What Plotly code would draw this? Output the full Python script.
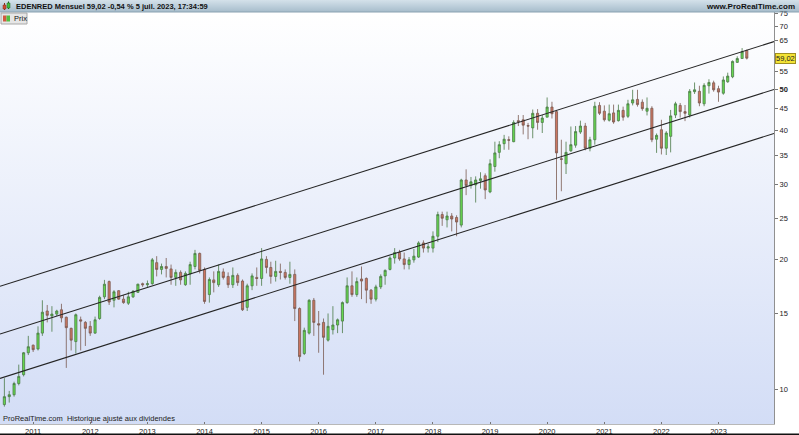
import base64
import math
import pandas as pd
import plotly.graph_objects as go

# ---------------- data ----------------
months = pd.date_range("2010-07-01", periods=157, freq="MS")

opens = [9.2, 9.6, 9.7, 10.3, 10.8, 12.15,
         12.65, 12.4, 13.5, 15.2, 14.8, 14.95, 15.3, 14.7, 13.85, 12.9, 14.5, 14.3,
         14.0, 13.5, 14.6, 16.4, 17.8, 16.1, 16.95, 16.2, 15.85, 16.4, 16.8, 17.6,
         17.5, 17.6, 19.7, 19.0, 19.3, 19.05, 18.2, 18.7, 17.5, 18.55, 19.3, 20.7,
         19.0, 16.6, 17.96, 17.5, 18.75, 18.3, 17.5, 18.4, 17.85, 15.5, 17.4, 18.2,
         18.1, 20.05, 19.2, 18.3, 18.8, 18.7, 18.2, 18.5, 15.4, 12.1, 13.5, 16.1,
         14.2, 14.3, 13.0, 13.75, 14.1, 14.4, 15.9, 17.4, 16.6, 18.05, 18.1, 17.0,
         16.2, 17.3, 18.35, 19.0, 20.2, 20.8, 20.1, 19.5, 20.0, 20.3, 21.9, 21.3,
         21.3, 22.7, 25.5, 24.8, 25.3, 25.1, 24.1, 30.7, 29.8, 29.9, 30.6, 31.4,
         28.8, 33.0, 35.6, 37.3, 38.1, 37.7, 42.2, 42.4, 41.1, 40.6, 43.9, 41.8,
         43.0, 45.4, 44.3, 34.4, 33.5, 35.9, 37.0, 39.7, 41.0, 36.4, 38.1, 45.8,
         44.4, 42.3, 44.0, 42.2, 44.6, 43.2, 46.4, 47.3, 46.6, 44.4, 45.1, 38.2,
         40.2, 36.4, 38.8, 43.5, 45.8, 44.3, 43.5, 49.3, 49.4, 46.2, 50.9, 51.7,
         50.1, 48.9, 52.0, 53.4, 57.7, 58.9, 61.5]
highs = [10.6, 9.9, 10.4, 11.4, 12.2, 13.3,
         12.7, 14.0, 16.1, 15.7, 15.6, 15.3, 15.8, 14.75, 13.9, 15.0, 14.75, 14.4,
         14.4, 14.75, 16.5, 17.96, 17.9, 17.0, 17.0, 16.55, 16.85, 17.0, 17.6, 17.7,
         17.9, 20.2, 20.4, 19.6, 20.2, 19.5, 19.0, 18.9, 18.8, 19.8, 21.1, 20.8,
         19.2, 18.2, 18.8, 19.5, 19.1, 18.7, 19.2, 18.6, 18.0, 17.6, 18.6, 19.2,
         21.3, 20.4, 19.8, 19.9, 19.6, 19.0, 19.8, 19.0, 15.5, 13.9, 16.2, 16.3,
         15.2, 14.6, 15.0, 15.6, 14.6, 16.0, 18.2, 18.8, 18.2, 19.3, 18.2, 17.1,
         17.5, 18.5, 19.0, 20.4, 21.3, 21.1, 20.8, 20.3, 21.2, 22.1, 22.2, 21.8,
         23.3, 25.9, 25.9, 25.9, 25.7, 25.4, 30.9, 32.5, 31.2, 31.3, 32.0, 31.8,
         34.3, 37.7, 37.8, 39.1, 38.8, 42.3, 43.5, 43.5, 41.7, 44.8, 44.9, 43.5,
         47.8, 46.7, 44.7, 38.1, 37.7, 40.9, 41.0, 42.2, 41.7, 38.7, 46.7, 46.6,
         45.8, 46.0, 46.0, 46.0, 45.5, 47.2, 49.8, 49.8, 47.3, 47.8, 45.6, 39.4,
         42.4, 39.9, 44.7, 46.7, 46.4, 45.9, 50.0, 51.8, 50.9, 51.6, 52.7, 52.3,
         50.9, 53.5, 54.6, 58.3, 59.6, 62.3, 61.8]
lows = [9.1, 9.3, 9.6, 10.2, 10.7, 12.0,
        12.2, 12.3, 13.3, 14.3, 13.6, 14.8, 14.3, 11.2, 12.3, 12.1, 12.3, 12.6,
        13.3, 13.45, 14.5, 16.2, 15.7, 15.5, 16.15, 15.8, 15.7, 16.3, 16.75, 17.3,
        17.2, 17.5, 18.3, 18.5, 18.2, 17.5, 17.4, 17.5, 17.4, 17.5, 19.0, 18.6,
        15.8, 15.9, 16.8, 17.3, 18.0, 17.2, 17.2, 17.4, 15.2, 15.2, 17.0, 17.4,
        17.4, 18.6, 17.6, 17.8, 18.0, 18.0, 17.6, 14.4, 11.6, 12.0, 13.4, 13.3,
        12.15, 10.8, 12.9, 13.4, 13.5, 13.5, 15.8, 16.4, 16.4, 16.2, 15.85, 15.8,
        16.0, 17.1, 17.5, 18.9, 19.6, 19.9, 19.0, 19.0, 19.7, 20.2, 20.8, 20.8,
        20.8, 22.0, 24.0, 23.8, 23.3, 22.7, 23.8, 28.3, 29.3, 27.2, 29.3, 27.7,
        28.6, 32.1, 34.5, 36.1, 36.1, 37.6, 41.0, 39.2, 38.2, 38.4, 40.2, 39.5,
        43.0, 42.7, 27.6, 28.9, 31.7, 35.7, 36.5, 39.3, 36.0, 35.8, 37.1, 43.5,
        42.0, 42.0, 41.5, 42.0, 42.2, 42.8, 45.8, 45.5, 44.5, 43.4, 37.6, 35.5,
        35.2, 35.1, 35.6, 42.8, 42.9, 42.1, 42.9, 48.7, 45.6, 45.6, 48.8, 49.3,
        46.7, 48.5, 51.7, 53.0, 57.5, 58.9, 58.6]
closes = [9.6, 9.7, 10.3, 10.7, 12.15, 12.55,
          12.35, 13.5, 15.1, 14.85, 14.95, 15.2, 14.65, 13.9, 13.0, 14.9, 14.4, 13.85,
          13.5, 14.5, 16.35, 17.55, 15.95, 16.85, 16.2, 15.9, 16.4, 16.9, 17.55, 17.5,
          17.6, 20.0, 19.0, 19.3, 19.1, 18.2, 18.7, 17.96, 18.6, 19.5, 20.7, 18.9,
          16.0, 18.0, 17.7, 18.8, 18.2, 17.5, 18.4, 17.7, 15.3, 17.4, 18.35, 18.1,
          20.1, 19.2, 18.3, 18.8, 18.7, 18.2, 18.5, 15.4, 11.9, 13.7, 16.1, 14.3,
          14.1, 13.2, 14.0, 14.1, 14.5, 15.9, 17.4, 16.6, 17.8, 17.85, 17.0, 16.2,
          17.3, 18.3, 18.9, 20.2, 20.8, 20.1, 19.5, 20.0, 20.4, 21.9, 21.3, 21.45,
          22.7, 25.5, 25.0, 25.3, 24.9, 24.5, 30.7, 29.8, 30.4, 30.7, 30.9, 29.1,
          33.5, 35.5, 37.1, 38.2, 38.0, 41.8, 42.0, 41.2, 41.0, 43.9, 41.8, 42.8,
          45.4, 43.8, 35.5, 34.3, 35.6, 37.1, 39.8, 41.0, 36.4, 38.1, 45.6, 43.9,
          42.4, 43.8, 41.9, 44.6, 43.0, 46.2, 47.2, 46.0, 45.0, 45.1, 38.1, 39.0,
          36.4, 39.5, 43.3, 46.2, 44.3, 43.9, 49.4, 49.8, 46.4, 51.0, 51.8, 49.8,
          49.2, 52.5, 53.6, 58.0, 58.9, 61.1, 59.02]

channel_dates = ["2010-06-03", "2023-12-22"]
channel_upper = [17.35, 64.5]
channel_middle = [13.43, 49.9]
channel_lower = [10.59, 39.4]

year_ticks = [f"{y}-01-01" for y in range(2011, 2024)]
year_labels = [str(y) for y in range(2011, 2024)]
price_ticks = [10, 15, 20, 25, 30, 35, 40, 45, 50, 55, 60, 65, 70, 75]
price_labels = ["<b>50</b>" if v == 50 else str(v) for v in price_ticks]
last_label = "59,02"

# ---------------- geometry helpers (pixels -> paper) ----------------
FW, FH = 799, 435
ML, MR, MT, MB = 0, 25, 12, 11
PW, PH = FW - ML - MR, FH - MT - MB


def px(x):
    return (x - ML) / PW


def py(y):
    return (FH - MB - y) / PH


def svg_uri(c1, c2):
    svg = ('<svg xmlns="http://www.w3.org/2000/svg" width="100" height="100" '
           'preserveAspectRatio="none"><defs><linearGradient id="g" x1="0" y1="0" '
           f'x2="0" y2="1"><stop offset="0" stop-color="{c1}"/><stop offset="1" '
           f'stop-color="{c2}"/></linearGradient></defs>'
           '<rect width="100" height="100" fill="url(#g)"/></svg>')
    return "data:image/svg+xml;base64," + base64.b64encode(svg.encode()).decode()


FONT = "Liberation Sans, Arial"

fig = go.Figure()

for vals in (channel_upper, channel_middle, channel_lower):
    fig.add_trace(go.Scatter(x=channel_dates, y=vals, mode="lines",
                             line=dict(color="#252525", width=1.1),
                             hoverinfo="skip", showlegend=False))

fig.add_trace(go.Candlestick(
    x=months, open=opens, high=highs, low=lows, close=closes,
    increasing=dict(fillcolor="#66d94f", line=dict(color="#4a7a46", width=0.8)),
    decreasing=dict(fillcolor="#cc7560", line=dict(color="#7a5a50", width=0.8)),
    whiskerwidth=0, showlegend=False, hoverinfo="skip"))

shapes = []
# header icon
shapes.append(dict(type="line", xref="paper", yref="paper", x0=px(4.5), x1=px(4.5),
                   y0=py(10), y1=py(3), line=dict(color="#803020", width=1)))
shapes.append(dict(type="rect", xref="paper", yref="paper", x0=px(3), x1=px(6),
                   y0=py(9), y1=py(5), fillcolor="#d04a30", line=dict(color="#803020", width=0.5)))
shapes.append(dict(type="line", xref="paper", yref="paper", x0=px(8.5), x1=px(8.5),
                   y0=py(9), y1=py(1.5), line=dict(color="#206020", width=1)))
shapes.append(dict(type="rect", xref="paper", yref="paper", x0=px(7), x1=px(10),
                   y0=py(8), y1=py(3), fillcolor="#40c040", line=dict(color="#206020", width=0.5)))
# header bottom line
shapes.append(dict(type="line", xref="paper", yref="paper", x0=px(0), x1=px(FW),
                   y0=py(12), y1=py(12), line=dict(color="#8aa2b2", width=1)))
# legend box "Prix"
shapes.append(dict(type="rect", xref="paper", yref="paper", x0=px(1), x1=px(27),
                   y0=py(24), y1=py(13), fillcolor="#e6e6e6", line=dict(color="#a8a8a8", width=1)))
shapes.append(dict(type="rect", xref="paper", yref="paper", x0=px(3), x1=px(6.5),
                   y0=py(21.5), y1=py(15.5), fillcolor="#d05a40", line=dict(width=0)))
shapes.append(dict(type="rect", xref="paper", yref="paper", x0=px(6.5), x1=px(10),
                   y0=py(21.5), y1=py(15.5), fillcolor="#50c040", line=dict(width=0)))
# bottom dark line
shapes.append(dict(type="rect", xref="paper", yref="paper", x0=px(0), x1=px(FW),
                   y0=py(435), y1=py(433.5), fillcolor="#111111", line=dict(width=0)))

images = [
    dict(source=svg_uri("#ffffff", "#d3ddf6"), xref="paper", yref="paper",
         x=0, y=1, sizex=1, sizey=1, sizing="stretch", layer="below",
         xanchor="left", yanchor="top"),
    dict(source=svg_uri("#d4e1ea", "#a6bccb"), xref="paper", yref="paper",
         x=px(0), y=py(0), sizex=px(FW) - px(0), sizey=py(0) - py(12),
         sizing="stretch", layer="below", xanchor="left", yanchor="top"),
]

annotations = [
    dict(text="<b>EDENRED Mensuel 59,02 -0,54 % 5 juil. 2023, 17:34:59</b>",
         xref="paper", yref="paper", x=px(14), y=py(6), xanchor="left", yanchor="middle",
         showarrow=False, font=dict(size=7.5, color="#111", family=FONT)),
    dict(text="<b>www.ProRealTime.com</b>",
         xref="paper", yref="paper", x=px(797), y=py(6), xanchor="right", yanchor="middle",
         showarrow=False, font=dict(size=8, color="#111", family=FONT)),
    dict(text="Prix", xref="paper", yref="paper", x=px(11.5), y=py(18.5),
         xanchor="left", yanchor="middle", showarrow=False,
         font=dict(size=7.5, color="#111", family=FONT)),
    dict(text="ProRealTime.com  Historique ajusté aux dividendes",
         xref="paper", yref="paper", x=px(1), y=py(418), xanchor="left", yanchor="middle",
         showarrow=False, font=dict(size=7.5, color="#222", family=FONT)),
    dict(text=last_label, xref="paper", yref="y", x=1, y=math.log10(closes[-1]),
         xanchor="left", yanchor="middle", xshift=1, showarrow=False,
         bgcolor="#f3e335", bordercolor="#a09020", borderwidth=1, borderpad=0,
         font=dict(size=7.5, color="#222", family=FONT)),
]

fig.update_layout(
    width=FW, height=FH,
    margin=dict(l=ML, r=MR, t=MT, b=MB, pad=0),
    paper_bgcolor="#ffffff", plot_bgcolor="rgba(0,0,0,0)",
    shapes=shapes, images=images, annotations=annotations,
    showlegend=False, hovermode=False,
    xaxis=dict(type="date", range=[channel_dates[0], channel_dates[1]],
               rangeslider=dict(visible=False),
               tickmode="array", tickvals=year_ticks, ticktext=year_labels,
               ticks="inside", ticklen=2, tickcolor="#777",
               tickfont=dict(size=7.5, color="#222", family=FONT),
               showgrid=False, zeroline=False, showline=True, linecolor="#b8b8b8"),
    yaxis=dict(type="log", side="right",
               range=[math.log10(8.29), math.log10(75.6)],
               tickmode="array", tickvals=price_ticks, ticktext=price_labels,
               ticks="outside", ticklen=3, tickcolor="#777",
               tickfont=dict(size=7.5, color="#222", family=FONT),
               showgrid=False, zeroline=False, showline=True, linecolor="#909090"),
)

fig.write_html("out.html", config={"displayModeBar": False},
               post_script="document.body.style.margin='0';document.body.style.overflow='hidden';")
